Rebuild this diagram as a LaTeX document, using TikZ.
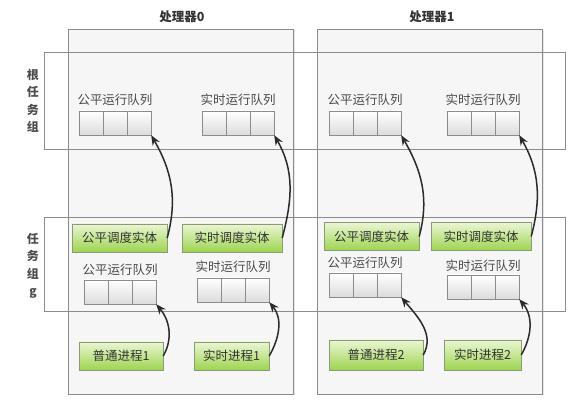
\documentclass[tikz,border=0pt]{standalone}
\usepackage{fontspec}
\setmainfont{Noto Sans CJK SC}
\usetikzlibrary{arrows.meta,shadows}
\definecolor{boxgray}{HTML}{8C8C8C}
\definecolor{panelgray}{HTML}{F6F6F6}
\definecolor{cellgray}{HTML}{DCDCDC}
\definecolor{textgray}{HTML}{4A4A4A}
\definecolor{greentop}{HTML}{EAF6D4}
\definecolor{greenbottom}{HTML}{9ED450}
\definecolor{greenline}{HTML}{8A9A78}
\definecolor{arrowgray}{HTML}{2A2A2A}

\begin{document}
\begin{tikzpicture}[%
      x=1pt, y=-1pt,
      every node/.style={font=\fontsize{12.5}{15}\selectfont, text=textgray},
      cell/.style={draw=boxgray, top color=white, bottom color=cellgray,
        minimum width=24pt, minimum height=24pt, inner sep=0pt},
      entity/.style={draw=greenline, top color=greentop, bottom color=greenbottom,
        minimum height=28pt, inner sep=0pt, text=black!80,
        drop shadow={opacity=0.25, shadow xshift=1pt, shadow yshift=-1pt}},
      title/.style={font=\fontsize{12.5}{15}\selectfont\bfseries, text=black!80},
      grouplabel/.style={align=center, font=\fontsize{12}{17.5}\selectfont\bfseries, text=black!70},
      link/.style={color=arrowgray, line width=1.5pt, -{Stealth[length=10pt,width=8pt]}},
      ]
      \useasboundingbox (0,0) rectangle (579,403);

      % processors
      \filldraw [fill=panelgray, draw=boxgray, drop shadow={opacity=0.2, shadow xshift=1.5pt, shadow yshift=-1.5pt}] (68,29) rectangle (293,394);
      \filldraw [fill=panelgray, draw=boxgray, drop shadow={opacity=0.2, shadow xshift=1.5pt, shadow yshift=-1.5pt}] (317,29) rectangle (542,394);
      \node [title] (cpu0) at (182,17) {处理器0};
      \node [title] (cpu1) at (432,17) {处理器1};

      % task groups
      \draw [color=boxgray] (44,52) rectangle (565,149);
      \draw [color=boxgray] (44,217) rectangle (565,311);
      \node [grouplabel] (rootg) at (33,101) {根\\任\\务\\组};
      \node [grouplabel] (taskg) at (33,266) {任\\务\\组\\g};

      % root group queues
      \node (rf0) at (115,100) {公平运行队列};
      \node [cell] (rf0a) at (91,123) {};
      \node [cell] (rf0b) at (115,123) {};
      \node [cell] (rf0c) at (139,123) {};
      \node (rr0) at (238,100) {实时运行队列};
      \node [cell] (rr0a) at (214,123) {};
      \node [cell] (rr0b) at (238,123) {};
      \node [cell] (rr0c) at (262,123) {};
      \node (rf1) at (365,100) {公平运行队列};
      \node [cell] (rf1a) at (341,123) {};
      \node [cell] (rf1b) at (365,123) {};
      \node [cell] (rf1c) at (389,123) {};
      \node (rr1) at (483,100) {实时运行队列};
      \node [cell] (rr1a) at (459,123) {};
      \node [cell] (rr1b) at (483,123) {};
      \node [cell] (rr1c) at (507,123) {};

      % scheduling entities
      \node [entity, minimum width=95pt] (fe0) at (119.5,238) {公平调度实体};
      \node [entity, minimum width=100pt] (re0) at (232,238) {实时调度实体};
      \node [entity, minimum width=95pt] (fe1) at (371.5,236.5) {公平调度实体};
      \node [entity, minimum width=100pt] (re1) at (481,236.5) {实时调度实体};

      % group g queues
      \node (gf0) at (120,270) {公平运行队列};
      \node [cell] (gf0a) at (96,292) {};
      \node [cell] (gf0b) at (120,292) {};
      \node [cell] (gf0c) at (144,292) {};
      \node (gr0) at (233,267) {实时运行队列};
      \node [cell] (gr0a) at (209,290) {};
      \node [cell] (gr0b) at (233,290) {};
      \node [cell] (gr0c) at (257,290) {};
      \node (gf1) at (365,263) {公平运行队列};
      \node [cell] (gf1a) at (341,285) {};
      \node [cell] (gf1b) at (365,285) {};
      \node [cell] (gf1c) at (389,285) {};
      \node (gr1) at (483,266) {实时运行队列};
      \node [cell] (gr1a) at (459,287) {};
      \node [cell] (gr1b) at (483,287) {};
      \node [cell] (gr1c) at (507,287) {};

      % processes
      \node [entity, minimum width=84pt] (np1) at (121,356) {普通进程1};
      \node [entity, minimum width=75pt] (rp1) at (231.5,356) {实时进程1};
      \node [entity, minimum width=94pt, minimum height=30pt] (np2) at (376,355) {普通进程2};
      \node [entity, minimum width=77pt, minimum height=30pt] (rp2) at (482.5,355) {实时进程2};

      % arrows
      \draw [link] (fe0.east) to [out=75, in=-60] (rf0c.south east);
      \draw [link] (re0.east) to [out=75, in=-60] (rr0c.south east);
      \draw [link] (fe1.east) to [out=75, in=-60] (rf1c.south east);
      \draw [link] (re1.east) to [out=75, in=-60] (rr1c.south east);
      \draw [link] (np1.east) to [out=60, in=-50] (gf0c.south east);
      \draw [link] (rp1.east) to [out=60, in=-50] (gr0c.south east);
      \draw [link] (np2.east) to [out=60, in=-50] (gf1c.south east);
      \draw [link] (rp2.east) to [out=60, in=-50] (gr1c.south east);
      \end{tikzpicture}
\end{document}
